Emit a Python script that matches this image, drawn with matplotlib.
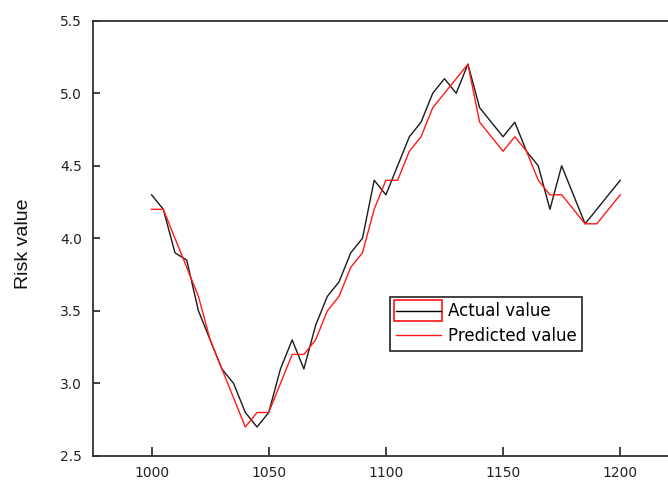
import matplotlib
matplotlib.use('Agg')
import matplotlib.pyplot as plt
from matplotlib.lines import Line2D
from matplotlib.patches import Rectangle

plt.rcParams['font.family'] = ['DejaVu Sans']

# time index and the two series
t = list(range(1000, 1201, 5))
actual = [4.3, 4.2, 3.9, 3.85, 3.5, 3.3, 3.1, 3.0, 2.8, 2.7,
          2.8, 3.1, 3.3, 3.1, 3.4, 3.6, 3.7, 3.9, 4.0, 4.4,
          4.3, 4.5, 4.7, 4.8, 5.0, 5.1, 5.0, 5.2, 4.9, 4.8,
          4.7, 4.8, 4.6, 4.5, 4.2, 4.5, 4.3, 4.1, 4.2, 4.3, 4.4]
predicted = [4.2, 4.2, 4.0, 3.8, 3.6, 3.3, 3.1, 2.9, 2.7, 2.8,
             2.8, 3.0, 3.2, 3.2, 3.3, 3.5, 3.6, 3.8, 3.9, 4.2,
             4.4, 4.4, 4.6, 4.7, 4.9, 5.0, 5.1, 5.2, 4.8, 4.7,
             4.6, 4.7, 4.6, 4.4, 4.3, 4.3, 4.2, 4.1, 4.1, 4.2, 4.3]
xticks = [1000, 1050, 1100, 1150, 1200]
yticks = [2.5, 3.0, 3.5, 4.0, 4.5, 5.0, 5.5]


# legend handle for the actual series: black line inside a red box
class BoxedLine:
    def legend_artist(self, legend, orig_handle, fontsize, handlebox):
        x0, y0 = handlebox.xdescent, handlebox.ydescent
        w, h = handlebox.width, handlebox.height
        tr = handlebox.get_transform()
        rect = Rectangle((x0 - 1, y0 + 0.5 * h - 0.92 * h), w + 2, 1.84 * h,
                         fc='none', ec='red', lw=1.1, transform=tr)
        line = Line2D([x0, x0 + w], [y0 + h / 2, y0 + h / 2], color='black',
                      lw=1.0, transform=tr)
        handlebox.add_artist(rect)
        handlebox.add_artist(line)
        return line


fig = plt.figure(figsize=(6.68, 4.8), dpi=100)
ax = fig.add_axes([0.1392, 0.05, 0.877, 0.907])

l1, = ax.plot(t, actual, color='#1a1a1a', lw=1.0, label='Actual value')
l2, = ax.plot(t, predicted, color='#ff1a1a', lw=1.0, label='Predicted value')

ax.set_xlim(975, 1225)
ax.set_ylim(2.5, 5.5)
ax.set_xticks(xticks)
ax.set_yticks(yticks)
ax.set_yticklabels(['%.1f' % v for v in yticks])

for s in ax.spines.values():
    s.set_color('#333333')
    s.set_linewidth(1.3)
ax.tick_params(axis='both', direction='in', colors='#333333', labelcolor='#222222',
               labelsize=10, width=1.3)
ax.tick_params(axis='x', length=6.5, pad=7)
ax.tick_params(axis='y', length=5, pad=8)

ax.set_ylabel('Risk value', fontsize=14, color='#111111', family='Liberation Sans')
ax.yaxis.set_label_coords(-0.1046, 0.487)

leg = ax.legend([l1, l2], ['Actual value', 'Predicted value'],
                handler_map={l1: BoxedLine()},
                loc='upper left', bbox_to_anchor=(0.507, 0.366), borderaxespad=0,
                fancybox=False, framealpha=1, edgecolor='#222222', fontsize=12,
                handlelength=2.7, handletextpad=0.4, borderpad=0.35,
                labelspacing=0.4)
leg.get_frame().set_linewidth(1.2)

fig.savefig('out.png', dpi=100)
